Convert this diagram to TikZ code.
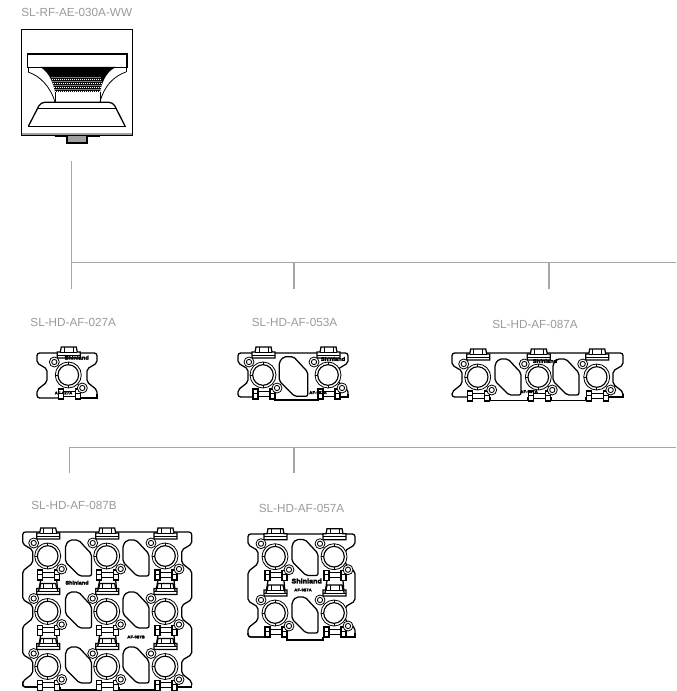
\documentclass[tikz,border=0pt]{standalone}
\usepackage{fontspec}
\setmainfont{Liberation Sans}
\newfontfamily\logofont[FakeBold=4,FakeStretch=1.08]{Liberation Sans Bold}
\usetikzlibrary{positioning}
\definecolor{wireGray}{HTML}{A6A6A6}
\definecolor{labelGray}{HTML}{9A9A9A}
\definecolor{tabGray}{HTML}{A0A0A0}

% one column of the side profile, both edges of a plate
\newcommand{\plateside}[5]{%
  \draw[plateline,rounded corners=1.5pt] (#1,#4) -- (#1,#3-12) -- (#1+10,#3-6) -- (#1+10,#3+7) -- (#1,#3+15) -- (#1,#5);
  \draw[plateline,rounded corners=1.5pt] (#2,#4) -- (#2,#3-12) -- (#2-10,#3-6) -- (#2-10,#3+7) -- (#2,#3+15) -- (#2,#5);
}
\newcommand{\platetop}[3]{%
  \draw[plateline,rounded corners=2pt] (#1,#3+5) -- (#1,#3) -- (#2,#3) -- (#2,#3+5);
}

\begin{document}
\begin{tikzpicture}[x=0.75pt,y=-0.75pt,
    plateline/.style={draw=black,line width=0.95pt},
    wire/.style={draw=wireGray,line width=0.85pt},
    partname/.style={text=labelGray,font=\fontsize{8.8}{10}\selectfont,inner sep=0pt},
    logotext/.style={text=black,inner sep=0pt,font=\logofont\fontsize{#1}{#1}\selectfont},
    logotext/.default=4,
    windowcut/.pic={
      \draw[plateline,rounded corners=1.5pt,fill=white]
        (-9,-18) -- (0,-18) -- (13,-4) -- (13,18) -- (1,18) -- (-13,4) -- (-13,-13) -- cycle;
    },
    cell/.pic={
      % top clip
      \draw[plateline,fill=white] (-11,-23) -- (-11,-17) -- (12,-17) -- (12,-23) -- (9,-23) -- (8,-28) -- (-7,-28) -- (-8,-23) -- cycle;
      \draw[line width=0.6pt] (-8,-23) -- (9,-23) (-4,-28) -- (-4,-23) (5,-28) -- (5,-23) (-11,-20) -- (12,-20);
      % bottom clip
      \draw[line width=0.7pt] (-6,16) -- (7,16) (-6,21) -- (7,21);
      \draw[plateline,fill=white] (-10,14) rectangle (-5,24);
      \draw[plateline,fill=white] (7,14) rectangle (12,24);
      \draw[line width=0.6pt] (-10,18) -- (-5,18) (7,18) -- (12,18);
      % screw holes and the ring
      \draw[line width=0.6pt,fill=white] (-14,-13) circle (5);
      \draw[line width=0.6pt,fill=white] (14,13) circle (5);
      \draw[line width=0.6pt,fill=white] (0,0) circle (13);
      \draw[line width=0.85pt,fill=white] (0,0) circle (10.3);
      \draw[line width=0.5pt] (0,-13) -- (0,-10.3) (-13,0) -- (-10.3,0) (0,10.3) -- (0,13);
      \draw[line width=0.65pt,fill=white] (-14,-13) circle (2.6);
      \draw[line width=0.65pt,fill=white] (14,13) circle (2.6);
    }]

  \useasboundingbox (0,0) rectangle (676,691);

  % the lamp at the head of the tree
  \node[partname] (headname) at (76.7,12.5) {SL-RF-AE-030A-WW};
  \draw[line width=0.65pt] (21.5,29) rectangle (132,135);
  \draw[draw=tabGray,line width=1pt] (21.5,134) -- (132,134);
  \draw[plateline,line width=1.2pt] (27.3,68) -- (27.3,54) -- (126.7,54) -- (126.7,68);
  \draw[line width=0.6pt] (27.3,67) -- (126.7,67);
  \fill[black] (40,67) .. controls (47,71) and (52,78) .. (55,92) -- (100,92)
    .. controls (103,78) and (108,71) .. (116,67) -- cycle;
  \foreach \r in {0,...,7}
    \foreach \c in {0,...,24}
      \fill[white] (53.5+\c*2+\r*0.5-1.5,77.5+\r*2) circle (0.72);
  \draw[line width=0.6pt] (28,72) .. controls (40,76) and (50,86) .. (55,102);
  \draw[line width=0.6pt] (126,72) .. controls (114,76) and (104,86) .. (100,102);
  \draw[line width=0.6pt] (28,67) -- (28,72) (126,67) -- (126,72);
  \draw[line width=0.6pt] (55,92) -- (55,102) (100,92) -- (100,102);
  \draw[plateline,rounded corners=3pt] (28.5,126) -- (40.7,102.3) -- (113,102.3) -- (125,126);
  \draw[line width=0.6pt] (37.5,108.5) -- (116.5,108.5);
  \draw[plateline] (27.5,126.5) -- (125.5,126.5);
  \draw[line width=0.8pt] (54.5,136.5) -- (99.5,136.5);
  \fill[tabGray] (67,136.5) rectangle (87,143);
  \draw[line width=0.8pt] (67,136.5) -- (67,143) -- (87,143) -- (87,136.5);

  % branches
  \coordinate (headdrop) at (71.5,161);
  \coordinate (busone) at (71.5,262.7);
  \coordinate (busoneend) at (676,262.7);
  \coordinate (dropa) at (71.5,289);
  \coordinate (jointb) at (294,262.7);
  \coordinate (dropb) at (294,289);
  \coordinate (jointc) at (549,262.7);
  \coordinate (dropc) at (549,289);
  \coordinate (bustwo) at (69.7,447.4);
  \coordinate (bustwoend) at (676,447.4);
  \coordinate (dropd) at (69.7,473);
  \coordinate (jointe) at (294,447.4);
  \coordinate (drope) at (294,473);
  \draw[wire] (headdrop) -- (dropa);
  \draw[wire] (busone) -- (busoneend);
  \foreach \a/\b in {jointb/dropb,jointc/dropc,bustwo/dropd,jointe/drope}
    \draw[wire] (\a) -- (\b);
  \draw[wire] (bustwo) -- (bustwoend);

  \node[partname] (namea) at (73.2,322.7) {SL-HD-AF-027A};
  \node[partname] (nameb) at (294.5,322.7) {SL-HD-AF-053A};
  \node[partname] (namec) at (535,324) {SL-HD-AF-087A};
  \node[partname] (named) at (74,505.3) {SL-HD-AF-087B};
  \node[partname] (namee) at (301.5,508.3) {SL-HD-AF-057A};

  % 027A
  \platetop{37}{97}{353}
  \plateside{37}{97}{375}{358}{394}
  \draw[plateline,rounded corners=2pt] (37,394) -- (37,398) -- (58,398);
  \draw[plateline] (81,398) -- (97,398) -- (97,394);
  \pic at (68.3,375) {cell};
  \node[logotext] (logoa) at (76.7,357.7) {Shinland};
  \node[logotext=3] (marka) at (63.5,393) {AF-027A};

  % 053A
  \platetop{238}{348}{353}
  \plateside{238}{348}{375}{358}{394}
  \draw[plateline,rounded corners=2pt] (238,394) -- (238,397) -- (253,397);
  \draw[plateline] (275,397) -- (275,400) -- (318,400) -- (318,397);
  \draw[plateline] (340,397) -- (348,397) -- (348,394);
  \pic[scale=1.1] at (293.5,376.5) {windowcut};
  \foreach \cx in {263,328}
    \pic at (\cx,375) {cell};
  \node[logotext] (logob) at (333,359) {Shinland};
  \node[logotext=3] (markb) at (318,392.7) {AF-053A};

  % 087A
  \platetop{452}{623}{353}
  \plateside{452}{623}{377}{358}{394}
  \draw[plateline,rounded corners=2pt] (452,394) -- (452,397) -- (468,397);
  \draw[plateline] (490,397) -- (490,400.5) -- (528,400.5) -- (528,397);
  \draw[plateline] (551,397) -- (551,400.5) -- (586,400.5) -- (586,397);
  \draw[plateline] (609,397) -- (623,397) -- (623,394);
  \foreach \wx in {508,566}
    \pic at (\wx,377) {windowcut};
  \foreach \cx in {477.7,538.3,596.7}
    \pic at (\cx,377) {cell};
  \node[logotext] (logoc) at (545,361) {Shinland};
  \node[logotext=3] (markc) at (529,391.7) {AF-087A};

  % 087B
  \platetop{22.7}{191.7}{532}
  \foreach \cy/\ya/\yb in {556/537/583,611.5/583/639,666.5/639/685}
    \plateside{22.7}{191.7}{\cy}{\ya}{\yb}
  \draw[plateline,rounded corners=2pt] (22.7,685) -- (22.7,687) -- (38,687);
  \draw[plateline] (60,687) -- (60,690) -- (97,690) -- (97,687);
  \draw[plateline] (119,687) -- (119,690) -- (155,690) -- (155,687);
  \draw[plateline] (177,687) -- (191.7,687) -- (191.7,685);
  \foreach \wx/\wy in {78.5/558,136/558,78.5/610,136/610,78.5/665,136/665}
    \pic at (\wx,\wy) {windowcut};
  \foreach \cy in {556,611.5,666.5}
    \foreach \cx in {47.7,106.7,165}
      \pic at (\cx,\cy) {cell};
  \foreach \cy in {556,611.5}
    \foreach \cx in {47.7,106.7,165}
      \draw[plateline] (\cx-7,\cy+24) -- (\cx-9,\cy+35) (\cx+9,\cy+24) -- (\cx+10,\cy+35);
  \node[logotext=3.8] (logod) at (77,582.7) {Shinland};
  \node[logotext=3] (markd) at (136,637) {AF-087B};

  % 057A
  \platetop{248}{355}{534}
  \foreach \cy/\ya/\yb in {556.7/539/585,613/585/633}
    \plateside{248}{355}{\cy}{\ya}{\yb}
  \draw[plateline,rounded corners=2pt] (248,633) -- (248,637) -- (264,637);
  \draw[plateline] (287,637) -- (287,640) -- (323,640) -- (323,637);
  \draw[plateline] (346,637) -- (355,637) -- (355,633);
  \foreach \wy in {557.5,615}
    \pic at (305,\wy) {windowcut};
  \foreach \cy in {556.7,613}
    \foreach \cx in {275,334}
      \pic at (\cx,\cy) {cell};
  \foreach \cx in {275,334}
    \draw[plateline] (\cx-7,580.7) -- (\cx-9,593) (\cx+9,580.7) -- (\cx+10,593);
  \node[logotext=5] (logoe) at (306.7,581) {Shinland};
  \node[logotext=3] (marke) at (303,590) {AF-057A};
\end{tikzpicture}
\end{document}
